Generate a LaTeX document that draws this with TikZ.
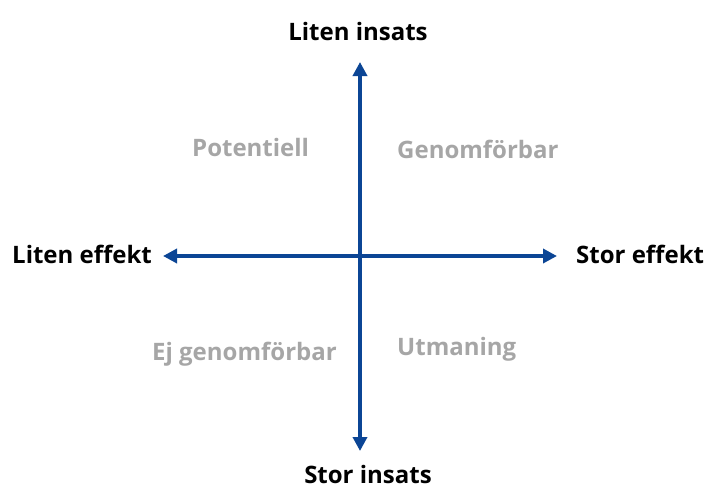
\documentclass[tikz,border=0pt]{standalone}
\usepackage{fontspec}
\setmainfont{Open Sans}
\usetikzlibrary{arrows.meta}
\definecolor{axisblue}{HTML}{0B4595}
\definecolor{lblgrey}{HTML}{A6A6A6}
\begin{document}
\begin{tikzpicture}[x=1pt,y=-1pt,
  axis/.style={draw=axisblue,line width=4pt,{Triangle[length=14pt,width=14pt]}-{Triangle[length=14pt,width=14pt]}},
  endlbl/.style={font=\fontsize{24}{28}\selectfont\bfseries,text=black,inner sep=0pt},
  quad/.style={font=\fontsize{24}{28}\selectfont\bfseries,text=lblgrey,inner sep=0pt,anchor=base west}]
\useasboundingbox (0,0) rectangle (705,488);
\coordinate (top) at (360,62);
\coordinate (bot) at (360,451);
\coordinate (left) at (163,256);
\coordinate (right) at (557,256);
\draw[axis] (bot) -- (top);
\draw[axis] (left) -- (right);
\node[endlbl,anchor=base] (lt) at (358,40) {Liten insats};
\node[endlbl,anchor=base] (lb) at (368,483) {Stor insats};
\node[endlbl,anchor=base west] (ll) at (12,263) {Liten effekt};
\node[endlbl,anchor=base west] (lr) at (576,263) {Stor effekt};
\node[quad] (q1) at (192,156) {Potentiell};
\node[quad] (q2) at (397,158) {Genomförbar};
\node[quad] (q3) at (152,360) {Ej genomförbar};
\node[quad] (q4) at (397,355) {Utmaning};
\end{tikzpicture}
\end{document}
